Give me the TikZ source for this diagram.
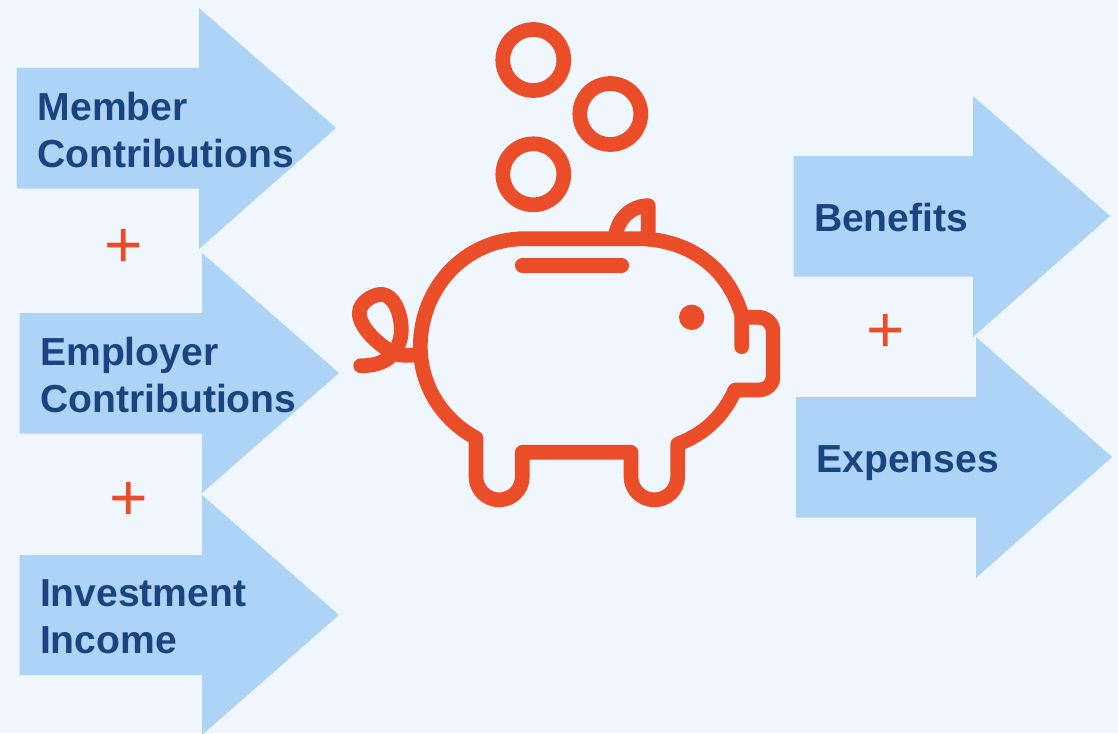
\documentclass[tikz,border=0pt]{standalone}
\usepackage{fontspec}
\setmainfont{Liberation Sans}
\definecolor{bgc}{HTML}{EFF6FE}
\definecolor{arrowc}{HTML}{ADD3F7}
\definecolor{textc}{HTML}{1A4480}
\definecolor{pigc}{HTML}{EC4D29}
\tikzset{
  x=1pt,y=-1pt,
  arrowshape/.style={fill=arrowc,draw=none},
  pigline/.style={draw=pigc,line width=14.7pt,line cap=round,line join=round},
  lbl/.style={anchor=base west,inner sep=0pt,outer sep=0pt,text=textc,font=\fontsize{39.1}{47}\selectfont\bfseries,align=left},
  plussign/.style={inner sep=0pt,outer sep=0pt,text=pigc,font=\fontsize{66}{66}\selectfont}
}
\begin{document}
\begin{tikzpicture}
\path[use as bounding box,fill=bgc] (0,0) rectangle (1118,733);
\begin{scope}
\clip (0,0) rectangle (1118,733);
\path[arrowshape] (16.5,68) -- (199,68) -- (199,8) -- (336,128) -- (199,249) -- (199,188.5) -- (16.5,188.5) -- cycle;
\path[arrowshape] (19.5,313) -- (202,313) -- (202,253) -- (339,373) -- (202,493) -- (202,433.5) -- (19.5,433.5) -- cycle;
\path[arrowshape] (19.5,555) -- (202,555) -- (202,495) -- (339,615) -- (202,735) -- (202,675) -- (19.5,675) -- cycle;
\path[arrowshape] (793.5,156) -- (973,156) -- (973,96) -- (1110,216) -- (973,337) -- (973,276.5) -- (793.5,276.5) -- cycle;
\path[arrowshape] (796,397) -- (976,397) -- (976,337) -- (1112,457) -- (976,578) -- (976,517.5) -- (796,517.5) -- cycle;
\end{scope}
\node[lbl] (member) at (37.7,167) {Member\\Contributions};
\node[lbl] (employer) at (40.2,412) {Employer\\Contributions};
\node[lbl] (investment) at (40,653) {Investment\\Income};
\node[lbl] (benefits) at (814,231) {Benefits};
\node[lbl] (expenses) at (816.5,472) {Expenses};
\node[plussign] (plusa) at (123.3,248.3) {+};
\node[plussign] (plusb) at (128.3,501.3) {+};
\node[plussign] (plusc) at (885.5,333.3) {+};
\begin{scope}
\clip (340,22) rectangle (780,507);
\draw[pigline] (533.3,60) circle (30.5);
\draw[pigline] (610.3,114) circle (30.5);
\draw[pigline] (533.3,174.3) circle (30.5);
% ear
\draw[pigline] (615,238.7) .. controls (617,218) and (632,205.7) .. (648.3,205.7) -- (648.3,238.7);
% body
\draw[pigline] (741.7,346.7) -- (741.7,315) .. controls (728,268) and (690,240) .. (640,238.7)
  -- (525,238.7) .. controls (465,238.7) and (420.3,288) .. (420.3,346.7)
  .. controls (420.3,385) and (442,420) .. (476,438) -- (476,476.7)
  .. controls (476,489.5) and (486.3,499.85) .. (499.15,499.85)
  .. controls (512,499.85) and (522.3,489.5) .. (522.3,476.7)
  -- (522.3,452.3) -- (631,452.3) -- (631,476.7)
  .. controls (631,489.5) and (641.4,499.85) .. (654.35,499.85)
  .. controls (667.3,499.85) and (677.7,489.5) .. (677.7,476.7)
  -- (677.7,444) .. controls (705,434) and (724,415) .. (735,390)
  -- (758.3,390) .. controls (767,390) and (773.3,384) .. (773.3,375) -- (773.3,333)
  .. controls (773.3,324) and (767,317.3) .. (758.3,317.3) -- (741.7,317.3);
% slot
\draw[pigline] (522.3,265.3) -- (621.7,265.3);
% tail
\draw[pigline] (360.7,365.7) .. controls (372,366) and (382,363) .. (388.3,358.3)
  .. controls (396,352) and (401.3,342) .. (401.3,330)
  .. controls (401.3,312) and (393,294.3) .. (381,294.3)
  .. controls (375,294.3) and (359.3,301) .. (359.3,313.3)
  .. controls (359.3,327) and (378,345) .. (395,354)
  .. controls (402,356) and (410,355) .. (420,355);
\fill[pigc] (691.7,317.3) circle (12.7);
\end{scope}
\end{tikzpicture}
\end{document}
